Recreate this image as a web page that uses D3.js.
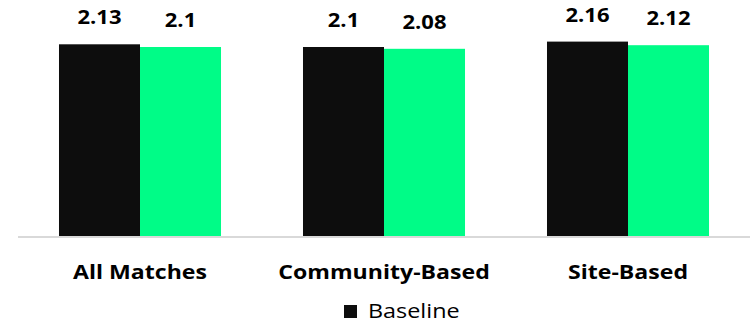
<!DOCTYPE html>
<html><head><meta charset="utf-8">
<script src="https://cdn.jsdelivr.net/npm/d3@7"></script>
<style>body{margin:0;background:#fff}svg{display:block}</style>
</head><body><svg id="c" width="750" height="325"></svg>
<script>
const categories = ["All Matches", "Community-Based", "Site-Based"];
const seriesNames = ["Baseline", "Comparison"];
const baseline = [2.13, 2.1, 2.16];
const comparison = [2.1, 2.08, 2.12];
const legendItems = ["Baseline"];

const colors = {"Baseline": "#0d0d0d", "Comparison": "#00fc87"};
const font = "'Open Sans', sans-serif";
const svg = d3.select("#c");
const W = 750, axisY = 236;

const x = d3.scaleBand().domain(categories).range([18, 750]).paddingInner(0.336).paddingOuter(0.168);
const xs = d3.scaleBand().domain(seriesNames).range([0, x.bandwidth()]);
const y = d3.scaleLinear().domain([0, 2.6]).range([axisY, 2]);

const data = categories.map((c, i) => ({cat: c, vals: [
  {s: "Baseline", v: baseline[i]}, {s: "Comparison", v: comparison[i]}]}));

const g = svg.selectAll("g.cat").data(data).join("g").attr("class", "cat")
  .attr("transform", d => `translate(${x(d.cat)},0)`);
g.selectAll("rect").data(d => d.vals).join("rect")
  .attr("x", d => xs(d.s)).attr("width", xs.bandwidth())
  .attr("y", d => y(d.v)).attr("height", d => axisY - y(d.v))
  .attr("fill", d => colors[d.s]);
g.selectAll("text.val").data(d => d.vals).join("text").attr("class", "val")
  .attr("transform", d => `translate(${xs(d.s) + xs.bandwidth() / 2},${y(d.v) - 20}) scale(1.1,1)`)
  .attr("text-anchor", "middle").attr("font-family", font).attr("font-weight", "bold")
  .attr("font-size", 20).attr("fill", "#000").text(d => d.v);

svg.append("line").attr("x1", 18).attr("x2", W).attr("y1", axisY + 1).attr("y2", axisY + 1)
  .attr("stroke", "#d9d9d9").attr("stroke-width", 2);

const xAxis = svg.append("g").attr("transform", `translate(0,${axisY})`)
  .call(d3.axisBottom(x).tickSize(0).tickPadding(0));
xAxis.select(".domain").remove();
xAxis.selectAll("text").attr("y", 43).attr("dy", 0).attr("font-family", font)
  .attr("transform", "scale(1.155,1)")
  .attr("font-weight", "bold").attr("font-size", 20).attr("fill", "#000");

const leg = svg.append("g").attr("transform", "translate(344,305)");
legendItems.forEach((s, i) => {
  leg.append("rect").attr("x", 0).attr("y", 0).attr("width", 13).attr("height", 13).attr("fill", colors[s]);
  leg.append("text").attr("transform", "translate(24,13) scale(1.17,1)").attr("font-family", font)
    .attr("font-size", 20).attr("fill", "#000").text(s);
});
</script></body></html>
